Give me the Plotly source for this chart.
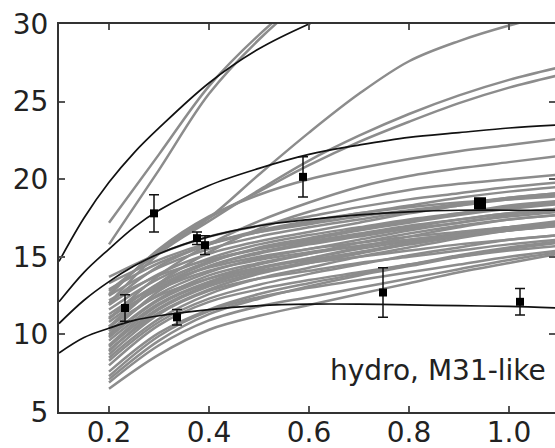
import plotly.graph_objects as go

# ---------------- data ----------------
X_GRID = [0.2, 0.3, 0.4, 0.5, 0.6, 0.7, 0.8, 0.9, 1.0, 1.1]

# simulated rotation curves (grey), values at X_GRID
steep_1 = [17.2, 21.6, 26.0, 29.3, 32.0, 34.2, 36.0, 37.5, 38.7, 39.7]
steep_2 = [15.8, 20.6, 25.5, 29.0, 31.8, 34.1, 36.0, 37.6, 38.9, 40.0]
high_1 = [12.8, 15.3, 17.5, 20.3, 23.0, 25.5, 27.6, 28.9, 29.9, 30.7]
high_2 = [12.0, 15.2, 17.3, 19.3, 21.2, 22.8, 24.2, 25.4, 26.4, 27.2]
high_3 = [12.6, 15.4, 17.5, 19.2, 20.9, 22.4, 23.7, 24.9, 25.9, 26.7]
mid_1 = [12.5, 15.5, 17.6, 19.0, 20.0, 20.7, 21.3, 21.8, 22.2, 22.6]
mid_2 = [11.0, 13.8, 15.8, 17.3, 18.5, 19.5, 20.2, 20.7, 21.1, 21.5]
mid_3 = [10.5, 13.3, 15.3, 16.8, 17.9, 18.7, 19.3, 19.7, 20.0, 20.3]

band = [
    [6.5, 8.7, 10.3, 11.2, 11.9, 12.6, 13.3, 14.0, 14.6, 15.2],
    [6.9, 9.3, 10.9, 11.8, 12.4, 13.0, 13.6, 14.2, 14.8, 15.3],
    [7.3, 9.9, 11.5, 12.4, 13.0, 13.5, 14.0, 14.5, 15.0, 15.4],
    [7.6, 10.1, 11.6, 12.6, 13.3, 13.9, 14.5, 15.1, 15.6, 16.0],
    [8.0, 10.6, 12.1, 12.9, 13.5, 14.0, 14.5, 15.0, 15.4, 15.7],
    [8.3, 10.8, 12.3, 13.2, 13.9, 14.5, 15.1, 15.6, 16.1, 16.4],
    [8.7, 11.3, 12.8, 13.6, 14.1, 14.6, 15.0, 15.4, 15.8, 16.1],
    [9.0, 11.4, 12.9, 13.9, 14.6, 15.2, 15.8, 16.3, 16.8, 17.1],
    [9.3, 11.9, 13.3, 14.1, 14.6, 15.0, 15.4, 15.8, 16.1, 16.4],
    [9.6, 12.0, 13.4, 14.3, 14.9, 15.5, 16.0, 16.5, 16.9, 17.2],
    [9.9, 12.3, 13.8, 14.6, 15.2, 15.7, 16.1, 16.5, 16.9, 17.2],
    [10.2, 12.6, 14.0, 14.9, 15.5, 16.1, 16.7, 17.2, 17.7, 18.0],
    [10.5, 12.5, 13.6, 14.3, 14.8, 15.3, 15.8, 16.3, 16.7, 17.0],
    [10.8, 13.0, 14.4, 15.2, 15.8, 16.3, 16.8, 17.2, 17.6, 17.9],
    [11.0, 13.3, 14.7, 15.5, 16.1, 16.7, 17.2, 17.7, 18.1, 18.4],
    [11.3, 13.2, 14.3, 15.0, 15.5, 15.9, 16.3, 16.6, 16.9, 17.1],
    [11.6, 13.6, 14.9, 15.8, 16.4, 16.9, 17.4, 17.8, 18.2, 18.5],
    [11.9, 13.9, 15.2, 16.0, 16.6, 17.2, 17.8, 18.3, 18.8, 19.1],
    [12.2, 13.8, 14.8, 15.5, 16.0, 16.5, 17.0, 17.4, 17.8, 18.1],
    [12.5, 14.3, 15.5, 16.3, 16.9, 17.4, 17.9, 18.3, 18.7, 19.0],
    [12.9, 14.6, 15.8, 16.6, 17.2, 17.8, 18.3, 18.8, 19.2, 19.5],
    [13.3, 14.8, 15.9, 16.6, 17.1, 17.6, 18.0, 18.4, 18.8, 19.1],
    [13.7, 15.2, 16.3, 17.0, 17.6, 18.2, 18.7, 19.1, 19.5, 19.8],
    [7.1, 9.6, 11.3, 12.3, 13.1, 13.8, 14.4, 15.0, 15.5, 15.9],
    [8.5, 11.0, 12.6, 13.6, 14.3, 15.0, 15.6, 16.2, 16.7, 17.0],
    [9.8, 12.2, 13.6, 14.5, 15.2, 15.9, 16.5, 17.0, 17.4, 17.7],
    [10.0, 12.8, 14.4, 15.3, 15.9, 16.4, 16.9, 17.4, 17.8, 18.1],
    [12.0, 14.4, 15.8, 16.7, 17.3, 17.8, 18.2, 18.5, 18.7, 18.9],
    [11.1, 12.9, 14.1, 14.8, 15.3, 15.7, 16.1, 16.4, 16.7, 17.0],
    [9.2, 11.7, 13.2, 14.2, 14.9, 15.6, 16.3, 16.9, 17.4, 17.7],
    [10.4, 13.1, 14.6, 15.6, 16.2, 16.8, 17.3, 17.8, 18.3, 18.6],
    [8.9, 11.6, 13.1, 14.0, 14.7, 15.3, 15.9, 16.4, 16.9, 17.3],
]

# model curves (black)
X_MODEL = [0.1, 0.15, 0.2, 0.25, 0.3, 0.4, 0.5, 0.6, 0.7, 0.8, 0.9, 1.0, 1.1]
model_a = [14.7, 17.5, 19.8, 21.7, 23.3, 26.2, 28.4, 30.0, 31.3, 32.4, 33.3, 34.1, 34.8]
model_b = [12.1, 14.0, 15.5, 16.9, 18.0, 19.6, 20.7, 21.6, 22.2, 22.7, 23.0, 23.3, 23.5]
model_c = [10.7, 12.2, 13.4, 14.4, 15.2, 16.3, 17.0, 17.4, 17.7, 17.9, 18.0, 18.0, 18.0]
model_d = [8.8, 9.8, 10.4, 10.9, 11.2, 11.6, 11.85, 11.95, 11.95, 11.9, 11.85, 11.8, 11.7]

# observations
obs_x = [0.232, 0.290, 0.336, 0.376, 0.392, 0.588, 0.748, 1.022]
obs_y = [11.7, 17.8, 11.1, 16.2, 15.75, 20.15, 12.7, 12.1]
obs_err = [0.85, 1.2, 0.5, 0.4, 0.6, 1.3, 1.6, 0.85]
big_x = [0.942]
big_y = [18.45]

X_TICKS = [0.2, 0.4, 0.6, 0.8, 1.0]
Y_TICKS = [5, 10, 15, 20, 25, 30]
LABEL = "hydro, M31-like"

# ---------------- figure ----------------
GREY = "#8c8c8c"
fig = go.Figure()

for ys in band + [mid_3, mid_2, mid_1, high_3, high_2, high_1, steep_2, steep_1]:
    fig.add_trace(go.Scatter(x=X_GRID, y=ys, mode="lines",
                             line=dict(color=GREY, width=2.5, shape="spline", smoothing=1.0),
                             hoverinfo="skip", showlegend=False))

for ys in [model_a, model_b, model_c, model_d]:
    fig.add_trace(go.Scatter(x=X_MODEL, y=ys, mode="lines",
                             line=dict(color="#111111", width=1.7, shape="spline", smoothing=1.0),
                             hoverinfo="skip", showlegend=False))

fig.add_trace(go.Scatter(x=obs_x, y=obs_y, mode="markers",
                         marker=dict(symbol="square", size=8, color="black"),
                         error_y=dict(type="data", array=obs_err, visible=True,
                                      color="#111111", thickness=1.5, width=5),
                         showlegend=False))
fig.add_trace(go.Scatter(x=big_x, y=big_y, mode="markers",
                         marker=dict(symbol="square", size=12, color="black"),
                         showlegend=False))

fig.add_annotation(text=LABEL, xref="paper", yref="paper", x=0.986, y=0.108,
                   xanchor="right", yanchor="middle", showarrow=False,
                   font=dict(family="DejaVu Sans", size=28, color="#222222"))

axis_common = dict(showgrid=False, zeroline=False, showline=True, linecolor="#333333",
                   linewidth=2, mirror="ticks", ticks="inside", ticklen=6, tickwidth=1.5,
                   tickcolor="#555555", automargin=False,
                   tickfont=dict(family="DejaVu Sans", size=28, color="#222222"))

fig.update_xaxes(range=[0.1, 1.092], tickvals=X_TICKS, ticktext=[f"{v:.1f}" for v in X_TICKS],
                 ticklabelstandoff=-6, **axis_common)
fig.update_yaxes(range=[5, 30], tickvals=Y_TICKS, ticktext=[str(v) for v in Y_TICKS],
                 ticklabelstandoff=3, **axis_common)

fig.update_layout(width=555, height=448, margin=dict(l=59, r=0, t=24, b=36),
                  plot_bgcolor="white", paper_bgcolor="white")

fig.write_html("out.html",
               config={"displayModeBar": False},
               post_script="document.body.style.margin='0px';"
                           "document.body.style.overflow='hidden';")
